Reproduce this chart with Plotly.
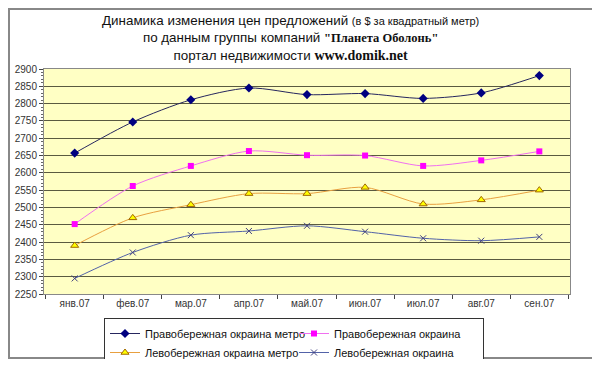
import plotly.graph_objects as go

months = ["янв.07", "фев.07", "мар.07", "апр.07", "май.07", "июн.07", "июл.07", "авг.07", "сен.07"]
right_metro = [2657, 2747, 2811, 2845, 2826, 2829, 2815, 2831, 2881]
right_edge = [2452, 2562, 2620, 2663, 2651, 2650, 2620, 2636, 2662]
left_metro = [2390, 2470, 2508, 2540, 2540, 2558, 2510, 2522, 2550]
left_edge = [2295, 2370, 2420, 2432, 2447, 2430, 2411, 2404, 2415]
names = ["Правобережная окраина метро", "Правобережная окраина",
         "Левобережная окраина метро", "Левобережная окраина"]
y_ticks = list(range(2250, 2901, 50))

fig = go.Figure()
styles = [
    dict(line=dict(color="#26265e", width=1), marker=dict(symbol="diamond", size=7, color="#000080")),
    dict(line=dict(color="#f070f0", width=1), marker=dict(symbol="square", size=6, color="#ff00ff")),
    dict(line=dict(color="#e8a040", width=1), marker=dict(symbol="triangle-up", size=7, color="#ffff00",
                                                          line=dict(color="#a06800", width=1))),
    dict(line=dict(color="#5262a8", width=1), marker=dict(symbol="x-thin", size=6, color="#404080",
                                                          line=dict(color="#404080", width=1))),
]
for vals, name, st in zip([right_metro, right_edge, left_metro, left_edge], names, styles):
    fig.add_trace(go.Scatter(x=months, y=vals, name=name, mode="lines+markers",
                             line=dict(shape="spline", smoothing=0.8, **st["line"]),
                             marker=st["marker"]))

# page has an 8px body margin; figure coordinates = page coordinates - 8
W, H = 592, 351
L, R, T, B = 36, 30, 61, 65
pw, ph = W - L - R, H - T - B
bottom = T + ph


def px(fx):
    return (fx - L) / pw


def py(fy):
    return (bottom - fy) / ph


title = ("Динамика изменения цен предложений <span style='font-size:11px'>(в $ за квадратный метр)</span><br>"
         "по данным группы компаний <b><span style='font-family:Liberation Serif;font-size:12.5px'>\"Планета Оболонь\"</span></b><br>"
         "портал недвижимости <b><span style='font-family:Liberation Serif;font-size:14px'>www.domik.net</span></b>")

fig.update_layout(
    width=W, height=H,
    margin=dict(l=L, r=R, t=T, b=B, autoexpand=False),
    paper_bgcolor="white",
    plot_bgcolor="#ffffc4",
    font=dict(family="Liberation Sans, Arial", size=11, color="#222"),
    showlegend=True,
    legend=dict(orientation="h", x=px(96), y=py(310), xanchor="left", yanchor="top",
                bordercolor="#333", borderwidth=1, bgcolor="white",
                font=dict(size=11, color="#111"), entrywidth=144, tracegroupgap=0,
                itemwidth=30),
    annotations=[dict(text=title, x=px(282), xref="paper", xanchor="center", y=py(3), yref="paper",
                      yanchor="top", showarrow=False, align="center", font=dict(size=13.4, color="#111"))],
    shapes=[dict(type="rect", xref="paper", yref="paper",
                 x0=px(1), x1=px(589), y0=py(350), y1=py(1),
                 line=dict(color="#888", width=2))],
)
fig.update_xaxes(type="category", tickson="boundaries", ticks="outside", ticklen=4, tickcolor="#444",
                 showline=True, linecolor="#888", mirror=True, showgrid=False,
                 tickfont=dict(size=10, color="#333"))
fig.update_yaxes(range=[2250, 2900], tickvals=y_ticks, ticks="outside", ticklen=4, tickcolor="#444",
                 showline=True, linecolor="#888", mirror=True, showgrid=True, gridcolor="#5a5a40",
                 gridwidth=1, zeroline=False, tickfont=dict(size=10, color="#333"),
                 minor=dict(dtick=10, ticks="outside", ticklen=2, tickcolor="#666"))

fig.write_html("out.html")
